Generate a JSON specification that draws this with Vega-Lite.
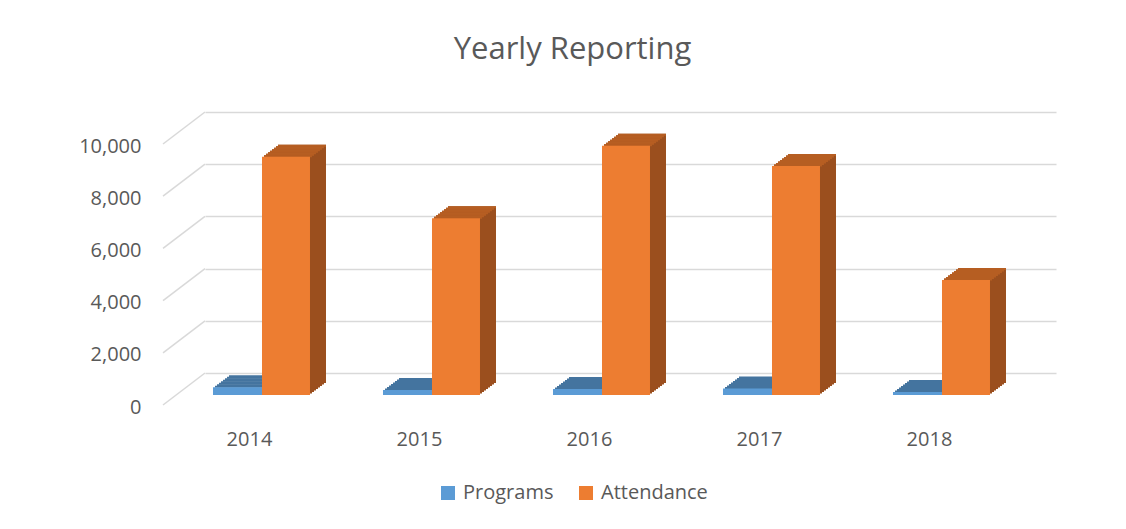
{
  "$schema": "https://vega.github.io/schema/vega-lite/v6.json",
  "width": 851,
  "height": 261,
  "autosize": {"type": "none"},
  "padding": {"left": 205, "top": 112, "right": 70, "bottom": 156},
  "background": "#ffffff",
  "config": {"view": {"stroke": null}, "font": "Open Sans"},
  "title": {"text": "Yearly Reporting", "fontSize": 31, "font": "Open Sans", "fontWeight": "normal", "color": "#595959", "anchor": "middle", "frame": "group", "dx": -58, "offset": 14, "baseline": "bottom"},
  "datasets": {
    "bars": [
      {"year": 2014, "series": "Programs", "value": 295},
      {"year": 2015, "series": "Programs", "value": 190},
      {"year": 2016, "series": "Programs", "value": 230},
      {"year": 2017, "series": "Programs", "value": 245},
      {"year": 2018, "series": "Programs", "value": 115},
      {"year": 2014, "series": "Attendance", "value": 9130},
      {"year": 2015, "series": "Attendance", "value": 6770},
      {"year": 2016, "series": "Attendance", "value": 9550},
      {"year": 2017, "series": "Attendance", "value": 8770},
      {"year": 2018, "series": "Attendance", "value": 4410}
    ],
    "ticks": [{"v": 0}, {"v": 2000}, {"v": 4000}, {"v": 6000}, {"v": 8000}, {"v": 10000}]
  },
  "layer": [
    {
      "data": {"name": "ticks"},
      "mark": {"type": "rule", "color": "#D9D9D9", "strokeWidth": 1.5, "x2Offset": -42, "y2Offset": 32},
      "encoding": {
        "x": {"datum": 2013.7412, "type": "quantitative",
          "scale": {"domain": [2013.7412, 2018.7471], "nice": false, "zero": false, "padding": 0},
          "axis": {"values": [2014, 2015, 2016, 2017, 2018], "format": "d", "grid": false, "domain": false, "ticks": false, "labelPadding": 56, "labelFontSize": 20, "labelFont": "Open Sans", "labelColor": "#595959", "labelFlush": false, "labelOverlap": false, "title": null}},
        "x2": {"datum": 2013.7412},
        "y": {"field": "v", "type": "quantitative",
          "scale": {"domain": [0, 10000], "nice": false},
          "axis": {"values": [0, 2000, 4000, 6000, 8000, 10000], "format": ",.0f", "grid": true, "gridColor": "#D9D9D9", "gridWidth": 1.5, "domain": false, "ticks": false, "labelOffset": 34, "labelPadding": 64, "labelFontSize": 20, "labelFont": "Open Sans", "labelColor": "#595959", "title": null}},
        "y2": {"field": "v"}
      }
    },
    {
      "data": {"name": "bars"},
      "transform": [{"filter": "datum.series === 'Programs'"}],
      "encoding": {
        "x": {"field": "year", "type": "quantitative"},
        "y": {"field": "value", "type": "quantitative"}
      },
      "layer": [
        {"mark": {"type": "bar", "width": 49, "xOffset": -9.5, "yOffset": 20.5, "y2Offset": 22.5, "color": "#44749F"}, "encoding": {"y2": {"field": "value"}}},
        {"mark": {"type": "bar", "width": 49, "xOffset": -7.5, "yOffset": 19, "y2Offset": 21, "color": "#44749F"}, "encoding": {"y2": {"field": "value"}}},
        {"mark": {"type": "bar", "width": 49, "xOffset": -5.5, "yOffset": 17.5, "y2Offset": 19.5, "color": "#44749F"}, "encoding": {"y2": {"field": "value"}}},
        {"mark": {"type": "bar", "width": 49, "xOffset": -3.5, "yOffset": 16, "y2Offset": 18, "color": "#44749F"}, "encoding": {"y2": {"field": "value"}}},
        {"mark": {"type": "bar", "width": 49, "xOffset": -1.5, "yOffset": 14.5, "y2Offset": 16.5, "color": "#44749F"}, "encoding": {"y2": {"field": "value"}}},
        {"mark": {"type": "bar", "width": 49, "xOffset": 0.5, "yOffset": 13, "y2Offset": 15, "color": "#44749F"}, "encoding": {"y2": {"field": "value"}}},
        {"mark": {"type": "bar", "width": 49, "xOffset": 2.5, "yOffset": 11.5, "y2Offset": 13.5, "color": "#44749F"}, "encoding": {"y2": {"field": "value"}}},
        {"mark": {"type": "bar", "width": 49, "xOffset": 4.5, "yOffset": 10, "y2Offset": 12, "color": "#44749F"}, "encoding": {"y2": {"field": "value"}}},
        {"mark": {"type": "bar", "width": 49, "xOffset": -11.5, "yOffset": 22, "y2Offset": 22},
         "encoding": {"color": {"field": "series", "type": "nominal",
           "scale": {"domain": ["Programs", "Attendance"], "range": ["#5B9BD5", "#ED7D31"]},
           "legend": {"title": null, "orient": "none", "legendX": 233, "legendY": 371, "direction": "horizontal", "symbolType": "square", "symbolSize": 196, "symbolStrokeWidth": 0, "labelFontSize": 20, "labelFont": "Open Sans", "labelColor": "#595959", "labelOffset": 5, "columnPadding": 22, "padding": 0}}}}
      ]
    },
    {
      "data": {"name": "bars"},
      "transform": [{"filter": "datum.series === 'Attendance'"}],
      "encoding": {
        "x": {"field": "year", "type": "quantitative"},
        "y": {"field": "value", "type": "quantitative"}
      },
      "layer": [
        {"mark": {"type": "bar", "width": 48, "xOffset": 39, "yOffset": 20.5, "y2Offset": 20.5, "color": "#9B4F1E"}},
        {"mark": {"type": "bar", "width": 48, "xOffset": 41, "yOffset": 19, "y2Offset": 19, "color": "#9B4F1E"}},
        {"mark": {"type": "bar", "width": 48, "xOffset": 43, "yOffset": 17.5, "y2Offset": 17.5, "color": "#9B4F1E"}},
        {"mark": {"type": "bar", "width": 48, "xOffset": 45, "yOffset": 16, "y2Offset": 16, "color": "#9B4F1E"}},
        {"mark": {"type": "bar", "width": 48, "xOffset": 47, "yOffset": 14.5, "y2Offset": 14.5, "color": "#9B4F1E"}},
        {"mark": {"type": "bar", "width": 48, "xOffset": 49, "yOffset": 13, "y2Offset": 13, "color": "#9B4F1E"}},
        {"mark": {"type": "bar", "width": 48, "xOffset": 51, "yOffset": 11.5, "y2Offset": 11.5, "color": "#9B4F1E"}},
        {"mark": {"type": "bar", "width": 48, "xOffset": 53, "yOffset": 10, "y2Offset": 10, "color": "#9B4F1E"}},
        {"mark": {"type": "bar", "width": 48, "xOffset": 39, "yOffset": 20.5, "y2Offset": 22.5, "color": "#B65E22"}, "encoding": {"y2": {"field": "value"}}},
        {"mark": {"type": "bar", "width": 48, "xOffset": 41, "yOffset": 19, "y2Offset": 21, "color": "#B65E22"}, "encoding": {"y2": {"field": "value"}}},
        {"mark": {"type": "bar", "width": 48, "xOffset": 43, "yOffset": 17.5, "y2Offset": 19.5, "color": "#B65E22"}, "encoding": {"y2": {"field": "value"}}},
        {"mark": {"type": "bar", "width": 48, "xOffset": 45, "yOffset": 16, "y2Offset": 18, "color": "#B65E22"}, "encoding": {"y2": {"field": "value"}}},
        {"mark": {"type": "bar", "width": 48, "xOffset": 47, "yOffset": 14.5, "y2Offset": 16.5, "color": "#B65E22"}, "encoding": {"y2": {"field": "value"}}},
        {"mark": {"type": "bar", "width": 48, "xOffset": 49, "yOffset": 13, "y2Offset": 15, "color": "#B65E22"}, "encoding": {"y2": {"field": "value"}}},
        {"mark": {"type": "bar", "width": 48, "xOffset": 51, "yOffset": 11.5, "y2Offset": 13.5, "color": "#B65E22"}, "encoding": {"y2": {"field": "value"}}},
        {"mark": {"type": "bar", "width": 48, "xOffset": 53, "yOffset": 10, "y2Offset": 12, "color": "#B65E22"}, "encoding": {"y2": {"field": "value"}}},
        {"mark": {"type": "bar", "width": 48, "xOffset": 37, "yOffset": 22, "y2Offset": 22},
         "encoding": {"color": {"field": "series", "type": "nominal"}}}
      ]
    }
  ]
}
